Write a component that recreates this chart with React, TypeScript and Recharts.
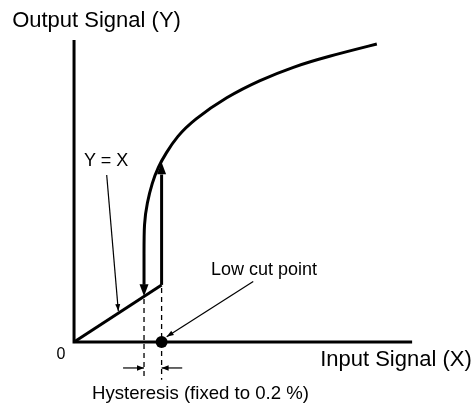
import React from 'react';
import { ComposedChart, Line, Scatter, XAxis, YAxis } from 'recharts';

const FONT = '"Liberation Sans", Arial, Helvetica, sans-serif';

// chart units: the straight segment is Y = X
const X_DOMAIN = [-21.9, 118.6];
const Y_DOMAIN = [-27.7, 155.2];

// axis frame (corner at origin)
const frameX = [0, 0, 100];
const frameY = [137, 0, 0];

// output curve above the low cut
const curveX = [20.7, 20.7, 20.7, 21.6, 23.08, 24.85, 27.22, 30.38, 35.3, 45.18, 55.03, 64.88, 74.76, 89.56];
const curveY = [26, 40, 54.0, 63.07, 72.14, 79.4, 85.75, 93.15, 100.73, 111.3, 118.87, 124.91, 129.45, 135.21];

// Y = X segment below the low cut point
const linearX = [0, 25.9];
const linearY = [0, 25.9];

// jump at the low cut point
const jumpX = [25.9, 25.9];
const jumpY = [25.9, 76];

// dashed guides for the hysteresis band
const guideLowX = [20.7, 20.7];
const guideLowY = [19.5, -17.2];
const guideHighX = [25.9, 25.9];
const guideHighY = [24.5, -17.2];

// hysteresis dimension arrows
const dimLeftX = [14.5, 20.7];
const dimRightX = [32.0, 25.9];
const dimY = [-11.8, -11.8];

// leader lines
const yxLeaderX = [9.66, 13.1];
const yxLeaderY = [75.8, 14.0];
const lowCutLeaderX = [53.0, 27.4];
const lowCutLeaderY = [27.4, 2.4];

const lowCutPoint = [{ x: 25.9, y: 0 }];

const arrowHeads = [
  { x: 20.7, y: 20.7, angle: 90, kind: 'main' },
  { x: 25.9, y: 81.6, angle: -90, kind: 'main' },
  { x: 13.1, y: 14.0, angle: 85, kind: 'leader' },
  { x: 27.4, y: 2.4, angle: 147.6, kind: 'leader' },
  { x: 20.7, y: -11.8, angle: 0, kind: 'dim' },
  { x: 25.9, y: -11.8, angle: 180, kind: 'dim' },
];

const labels = [
  { x: -18.3, y: 142.9, text: 'Output Signal (Y)', kind: 'title' },
  { x: 72.8, y: -10.9, text: 'Input Signal (X)', kind: 'title' },
  { x: -5.2, y: -7.7, text: '0', kind: 'zero' },
  { x: 2.96, y: 79.9, text: 'Y = X', kind: 'note' },
  { x: 40.5, y: 30.4, text: 'Low cut point', kind: 'note' },
  { x: 5.3, y: -25.9, text: 'Hysteresis (fixed to 0.2 %)', kind: 'wide' },
];

const toPts = (xs: number[], ys: number[]) => xs.map((x, i) => ({ x, y: ys[i] }));

const headSize: Record<string, [number, number]> = {
  main: [12, 4.5],
  leader: [7, 2.5],
  dim: [7, 2.8],
};

const ArrowHead = (props: any) => {
  const { cx, cy, payload } = props;
  const [len, half] = headSize[payload.kind];
  return (
    <polygon
      points={`0,0 ${-len},${-half} ${-len},${half}`}
      transform={`translate(${cx},${cy}) rotate(${payload.angle})`}
      fill="#000"
    />
  );
};

const fontSize: Record<string, number> = { title: 22, note: 18, wide: 18.6, zero: 16 };

const TextMark = (props: any) => {
  const { cx, cy, payload } = props;
  return (
    <text x={cx} y={cy} fontFamily={FONT} fontSize={fontSize[payload.kind]} fill="#000">
      {payload.text}
    </text>
  );
};

const Dot = (props: any) => <circle cx={props.cx} cy={props.cy} r={6} fill="#000" />;

export default function App() {
  const thick = { stroke: '#000', strokeWidth: 3, dot: false, isAnimationActive: false, legendType: 'none' as const };
  const thin = { stroke: '#000', strokeWidth: 1.2, dot: false, isAnimationActive: false, legendType: 'none' as const };
  const dashed = { ...thin, strokeWidth: 1.3, strokeDasharray: '5 4' };
  return (
    <div style={{ position: 'fixed', left: 0, top: 0, width: 475, height: 403, background: '#fff', overflow: 'visible' }}>
      <style>{'html,body{margin:0;padding:0;overflow:hidden;} .recharts-surface{overflow:visible;}'}</style>
      <ComposedChart width={475} height={403} margin={{ top: 0, right: 0, bottom: 0, left: 0 }}>
        <XAxis type="number" dataKey="x" domain={X_DOMAIN} hide />
        <YAxis type="number" dataKey="y" domain={Y_DOMAIN} hide />

        <Line data={toPts(frameX, frameY)} dataKey="y" type="linear" {...thick} />
        <Line data={toPts(guideLowX, guideLowY)} dataKey="y" type="linear" {...dashed} />
        <Line data={toPts(guideHighX, guideHighY)} dataKey="y" type="linear" {...dashed} />
        <Line data={toPts(linearX, linearY)} dataKey="y" type="linear" {...thick} />
        <Line data={toPts(jumpX, jumpY)} dataKey="y" type="linear" {...thick} />
        <Line data={toPts(curveX, curveY)} dataKey="y" type="basis" {...thick} />
        <Line data={toPts(dimLeftX, dimY)} dataKey="y" type="linear" {...thin} />
        <Line data={toPts(dimRightX, dimY)} dataKey="y" type="linear" {...thin} />
        <Line data={toPts(yxLeaderX, yxLeaderY)} dataKey="y" type="linear" {...thin} />
        <Line data={toPts(lowCutLeaderX, lowCutLeaderY)} dataKey="y" type="linear" {...thin} />

        <Scatter data={lowCutPoint} dataKey="y" shape={Dot} isAnimationActive={false} legendType="none" />
        <Scatter data={arrowHeads} dataKey="y" shape={ArrowHead} isAnimationActive={false} legendType="none" />
        <Scatter data={labels} dataKey="y" shape={TextMark} isAnimationActive={false} legendType="none" />
      </ComposedChart>
    </div>
  );
}
